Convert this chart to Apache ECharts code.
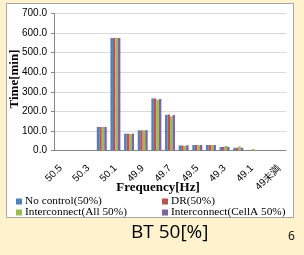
<!DOCTYPE html>
<html><head><meta charset="utf-8">
<script src="https://cdn.jsdelivr.net/npm/echarts@6/dist/echarts.min.js"></script>
<style>html,body{margin:0;padding:0;background:#FFF2CC;}#c{width:304px;height:255px;}</style>
</head><body><div id="c"></div>
<script>
const categories = ['50.5','50.4','50.3','50.2','50.1','50.0','49.9','49.8','49.7','49.6','49.5','49.4','49.3','49.2','49.1','49.0','49未満'];
const seriesNames = ['No control(50%)','DR(50%)','Interconnect(All 50%)','Interconnect(CellA 50%)'];
const noControl   = [0,0,0,120,575,86,103,266,182,26,28,28,18,14,0,0,0];
const dr          = [0,0,0,120,575,86,103,266,184,25,28,28,18,14,0,0,0];
const interAll    = [0,0,0,120,575,84,103,258,174,24,27,27,23,21,8,0,0];
const interCellA  = [0,0,0,120,575,86,104,263,181,27,28,28,18,14,0,0,0];
const yTicks = [0,700,100];
const colors = ['#4F81BD','#C0504D','#9BBB59','#8064A2'];
const values = [noControl, dr, interAll, interCellA];

const chart = echarts.init(document.getElementById('c'), null, {renderer:'canvas'});
const serif = 'Liberation Serif';
const sans = 'Liberation Sans';
chart.setOption({
  backgroundColor: '#FFF2CC',
  animation: false,
  color: colors,
  grid: {left: 54, right: 18, top: 13.5, bottom: 104.5, outerBoundsMode: 'none', containLabel: false},
  graphic: [
    {type:'rect', z:-10, shape:{x:6.5, y:3.5, width:287, height:214}, style:{fill:'#fff', stroke:'#A6A6A6', lineWidth:1}},
    {type:'text', left:131, top:223, style:{text:'BT 50[%]', font:'19px "Open Sans"', fill:'#000'}},
    {type:'text', left:288, top:231, style:{text:'6', font:'12px "Open Sans"', fill:'#000'}}
  ],
  xAxis: {
    type:'category', data: categories,
    name:'Frequency[Hz]', nameLocation:'middle', nameGap: 31, nameMoveOverlap:false,
    nameTextStyle:{fontFamily:serif, fontWeight:'bold', fontSize:13, color:'#000', padding:[0,24,0,0]},
    axisLine:{lineStyle:{color:'#868686'}},
    axisTick:{interval:0, length:4, lineStyle:{color:'#868686'}},
    axisLabel:{interval:1, rotate:45, fontSize:10, fontFamily:sans, color:'#000', margin:16}
  },
  yAxis: {
    type:'value', min:yTicks[0], max:yTicks[1], interval:yTicks[2],
    name:'Time[min]', nameLocation:'middle', nameGap:33, nameRotate:90, nameMoveOverlap:false,
    nameTextStyle:{fontFamily:serif, fontWeight:'bold', fontSize:13, color:'#000', padding:[0,0,0,6]},
    axisLine:{show:true, lineStyle:{color:'#868686'}},
    axisTick:{show:true, length:3, lineStyle:{color:'#868686'}},
    axisLabel:{formatter:v=>v.toFixed(1), fontSize:10, fontFamily:sans, color:'#000', margin:7},
    splitLine:{lineStyle:{color:'#D9D9D9'}}
  },
  legend: [
    {orient:'vertical', left:11, top:191, itemWidth:6, itemHeight:6, itemGap:0, icon:'rect',
     data:[seriesNames[0], seriesNames[2]], textStyle:{fontFamily:serif, fontSize:11.3, color:'#000', padding:[0,0,0,-2]}},
    {orient:'vertical', left:157, top:191, itemWidth:6, itemHeight:6, itemGap:0, icon:'rect',
     data:[seriesNames[1], seriesNames[3]], textStyle:{fontFamily:serif, fontSize:11.3, color:'#000', padding:[0,0,0,-2]}}
  ],
  series: seriesNames.map((n,i)=>({
    name:n, type:'bar', data: values[i], barGap:'0%', barCategoryGap:'27%',
    itemStyle:{color:colors[i]}
  }))
});
</script></body></html>
